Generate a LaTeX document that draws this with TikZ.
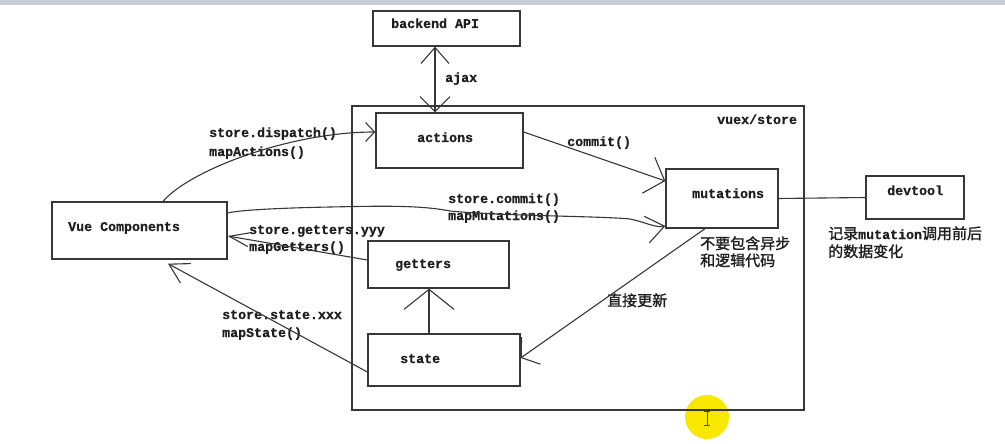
\documentclass[tikz,border=0pt]{standalone}
\usepackage{fontspec}
\usetikzlibrary{arrows.meta,calc}
\newfontfamily\monof{Liberation Mono}[BoldFeatures={FakeBold=0.6}]
\newfontfamily\cjk{Noto Sans CJK SC}[FakeBold=1.4]
\definecolor{ln}{RGB}{55,55,55}
\definecolor{band}{RGB}{200,205,216}
\definecolor{cursorc}{RGB}{248,232,0}
\begin{document}
\begin{tikzpicture}[x=1pt,y=-1pt,
  box/.style={draw=ln, line width=1.3pt, rectangle, inner sep=0},
  lbl/.style={anchor=base west, inner sep=0, font=\monof\bfseries\fontsize{13.3}{14}\selectfont, text=black!88},
  zh/.style={anchor=base west, inner sep=0, font=\cjk\fontsize{15}{17}\selectfont, text=black!88},
  conn/.style={draw=ln, line width=1.1pt},
]
\useasboundingbox (0,0) rectangle (1005,444);
\fill[white] (0,0) rectangle (1005,444);
\fill[band] (0,0) rectangle (1005,5);

% cursor highlight (under the drawing)
\fill[cursorc] (707,417) circle (22);
\draw[black!60!olive, line width=0.9pt] (707,411) -- (707,425) (704,411) -- (710,411) (704,425) -- (710,425);

% boxes
\node[box, minimum width=147pt, minimum height=35pt] (api) at (446.5,28.5) {};
\node[box, minimum width=452pt, minimum height=304pt] (store) at (578,258) {};
\node[box, minimum width=147pt, minimum height=55pt] (actions) at (449.5,140.5) {};
\node[box, minimum width=112pt, minimum height=59pt] (mutations) at (722,198.5) {};
\node[box, minimum width=98pt, minimum height=43pt] (devtool) at (915,197.5) {};
\node[box, minimum width=141pt, minimum height=47pt] (getters) at (438.5,264.5) {};
\node[box, minimum width=152pt, minimum height=52pt] (state) at (444,360) {};
\node[box, minimum width=175pt, minimum height=57pt] (vc) at (139.5,230.5) {};

% box texts
\node[lbl] (apiT) at (391,28) {backend API};
\node[lbl] (storeT) at (717,124) {vuex/store};
\node[lbl] (actionsT) at (417,142) {actions};
\node[lbl] (mutationsT) at (692,198) {mutations};
\node[lbl] (devtoolT) at (887,195) {devtool};
\node[lbl] (gettersT) at (395,268) {getters};
\node[lbl] (stateT) at (400,363) {state};
\node[lbl] (vcT) at (68,231) {Vue Components};

% connector labels
\node[lbl] (ajaxT) at (445,82) {ajax};
\node[lbl] (commitT) at (567,146) {commit()};
\node[lbl] (dispT) at (209,137) {store.dispatch()};
\node[lbl] (mapAT) at (209,156) {mapActions()};
\node[lbl] (scT) at (448,203) {store.commit()};
\node[lbl] (mapMT) at (448,220) {mapMutations()};
\node[lbl] (sgT) at (249,234) {store.getters.yyy};
\node[lbl] (mapGT) at (249,251) {mapGetters()};
\node[lbl] (ssT) at (222,319) {store.state.xxx};
\node[lbl] (mapST) at (222,337) {mapState()};
\node[zh] (note1) at (700,249) {不要包含异步};
\node[zh] (note2) at (700,266) {和逻辑代码};
\node[zh] (direct) at (607,306) {直接更新};
\node[anchor=base west, inner sep=0, text=black!88] (dev1) at (828,239) {{\cjk\fontsize{15}{17}\selectfont 记录}{\monof\bfseries\fontsize{13.3}{14}\selectfont mutation}{\cjk\fontsize{15}{17}\selectfont 调用前后}};
\node[zh] (dev2) at (828,257) {的数据变化};

% connectors
\draw[conn, {Straight Barb[length=16pt,width=28pt]}-{Straight Barb[length=15pt,width=30pt]}]
  ([xshift=-11.5pt]api.south) -- ([xshift=-14.5pt]actions.north);
\draw[conn, -{Straight Barb[length=9pt,width=19pt]}]
  ([xshift=23.5pt]vc.north) .. controls (190,170) and (290,132) .. ([yshift=8.5pt]actions.west);
\draw[conn, -{Straight Barb[length=17pt,width=38pt]}]
  ([yshift=8.5pt]actions.east) -- ([yshift=17.5pt]mutations.west);
\draw[conn, -{Straight Barb[length=18pt,width=27pt]}]
  ([yshift=17.5pt]vc.east) .. controls (240,210) and (280,208) .. (330,207)
  .. controls (380,206) and (420,205) .. (450,211)
  .. controls (500,216) and (600,216) .. (630,219)
  .. controls (645,222) and (655,228) .. ([yshift=-27.5pt]mutations.west);
\draw[conn, -{Straight Barb[length=20pt,width=14pt]}]
  ([yshift=4.5pt]getters.west) -- ([yshift=-5.5pt]vc.east);
\draw[conn, -{Straight Barb[length=19pt,width=22pt]}]
  ([yshift=-12pt]state.west) -- ([xshift=28.5pt,yshift=-4pt]vc.south);
\draw[conn, -{Straight Barb[length=20pt,width=50pt]}]
  ([xshift=-15pt]state.north) -- ([xshift=-9.5pt]getters.south);
\draw[conn, -{Straight Barb[length=12pt,width=33pt]}]
  ([xshift=-17pt]mutations.south) -- ([yshift=2pt]state.east);
\draw[conn] (mutations.east) -- (devtool.west);
\end{tikzpicture}
\end{document}
